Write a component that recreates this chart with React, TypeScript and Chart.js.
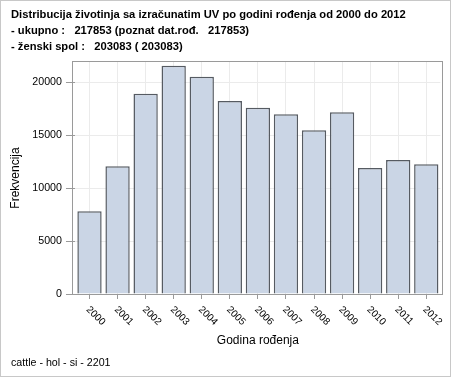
import React, { useEffect, useRef } from 'react';
import { Chart, registerables } from 'chart.js';

Chart.register(...registerables);

const years = ['2000', '2001', '2002', '2003', '2004', '2005', '2006', '2007', '2008', '2009', '2010', '2011', '2012'];
const counts = [7810, 12060, 18920, 21570, 20530, 18230, 17600, 16980, 15470, 17170, 11900, 12660, 12250];
const yTickValues = [0, 5000, 10000, 15000, 20000];
const yMax = 21920;
const titleLines = [
  'Distribucija životinja sa izračunatim UV po godini rođenja od 2000 do 2012',
  '- ukupno :   217853 (poznat dat.rođ.   217853)',
  '- ženski spol :   203083 ( 203083)',
];
const xTitle = 'Godina rođenja';
const yTitle = 'Frekvencija';
const footnote = 'cattle - hol - si - 2201';

const FONT = '"Liberation Sans", Arial, Helvetica, sans-serif';

export default function App() {
  const ref = useRef<HTMLCanvasElement>(null);

  useEffect(() => {
    document.body.style.margin = '0';
    const canvas = ref.current;
    if (!canvas) return;

    const framePlugin = {
      id: 'framePlugin',
      afterDatasetsDraw(chart: any) {
        const { ctx, chartArea: a } = chart;
        ctx.save();
        ctx.strokeStyle = '#9a9a9a';
        ctx.lineWidth = 1;
        const l = Math.round(a.left - 3) + 0.5;
        const r = Math.round(a.right + 2) + 0.5;
        const t = Math.round(a.top) - 0.5;
        const b = Math.round(a.bottom) + 0.5;
        ctx.strokeRect(l, t, r - l, b - t);
        ctx.restore();
      },
      afterDraw(chart: any) {
        const { ctx } = chart;
        const xs = chart.scales.x;
        ctx.save();
        ctx.fillStyle = '#000';
        ctx.font = `10px ${FONT}`;
        ctx.textAlign = 'left';
        ctx.textBaseline = 'middle';
        years.forEach((lab, i) => {
          const x = xs.getPixelForTick(i);
          ctx.save();
          ctx.translate(x - 1.7, xs.top + 14);
          ctx.rotate(Math.PI / 4);
          ctx.fillText(lab, 0, 0);
          ctx.restore();
        });
        ctx.restore();
      },
    };

    const chart = new Chart(canvas, {
      type: 'bar',
      data: {
        labels: years,
        datasets: [
          {
            data: counts,
            backgroundColor: '#cad5e5',
            borderColor: '#565b62',
            borderWidth: 1.5,
            barPercentage: 0.866,
            categoryPercentage: 1,
          },
        ],
      },
      options: {
        responsive: false,
        maintainAspectRatio: false,
        animation: false,
        devicePixelRatio: 1,
        layout: { padding: { left: 0, top: 62, right: 13.7, bottom: 0 } },
        plugins: { legend: { display: false }, tooltip: { enabled: false }, title: { display: false } },
        scales: {
          x: {
            type: 'category',
            offset: true,
            border: { display: false },
            grid: { offset: false, color: '#ebebeb', tickColor: '#9a9a9a', tickLength: 5, drawTicks: true },
            ticks: {
              color: 'rgba(0,0,0,0)',
              font: { family: FONT, size: 10 },
              minRotation: 45,
              maxRotation: 45,
              autoSkip: false,
            },
            title: {
              display: true,
              text: xTitle,
              color: '#000',
              font: { family: FONT, size: 12 },
              padding: { top: 0, bottom: 30 },
            },
            afterFit: (s: any) => {
              s.height = 84;
            },
          },
          y: {
            type: 'linear',
            min: 0,
            max: yMax,
            border: { display: false },
            grid: { color: '#ebebeb', tickColor: '#9a9a9a', tickLength: 9.5 },
            ticks: {
              color: '#000',
              font: { family: FONT, size: 10.67 },
              padding: 4,
              stepSize: 5000,
              includeBounds: false,
              callback: (v: any) => String(v),
            },
            afterBuildTicks: (s: any) => {
              s.ticks = yTickValues.map((v) => ({ value: v }));
            },
            title: {
              display: true,
              text: yTitle,
              color: '#000',
              font: { family: FONT, size: 12 },
              padding: { top: 8, bottom: 0 },
            },
            afterFit: (s: any) => {
              s.width = 75.47;
            },
          },
        },
      },
      plugins: [framePlugin],
    });

    return () => {
      chart.destroy();
    };
  }, []);

  return (
    <div style={{ position: 'relative', width: 454, height: 378, background: '#fff', fontFamily: FONT }}>
      <canvas ref={ref} width={454} height={378} style={{ position: 'absolute', left: 0, top: 0, display: 'block' }} />
      <div
        style={{
          position: 'absolute',
          left: 0,
          top: 0,
          width: 451,
          height: 377,
          boxSizing: 'border-box',
          border: '1px solid #c8c8c8',
          pointerEvents: 'none',
        }}
      />
      <div
        style={{
          position: 'absolute',
          left: 11,
          top: 6,
          fontSize: 11.2,
          fontWeight: 'bold',
          lineHeight: '16px',
          color: '#000',
          whiteSpace: 'pre',
        }}
      >
        {titleLines.map((t, i) => (
          <div key={i}>{t}</div>
        ))}
      </div>
      <div
        style={{
          position: 'absolute',
          left: 11,
          top: 355,
          fontSize: 10.67,
          lineHeight: '14px',
          color: '#000',
          whiteSpace: 'pre',
        }}
      >
        {footnote}
      </div>
    </div>
  );
}
